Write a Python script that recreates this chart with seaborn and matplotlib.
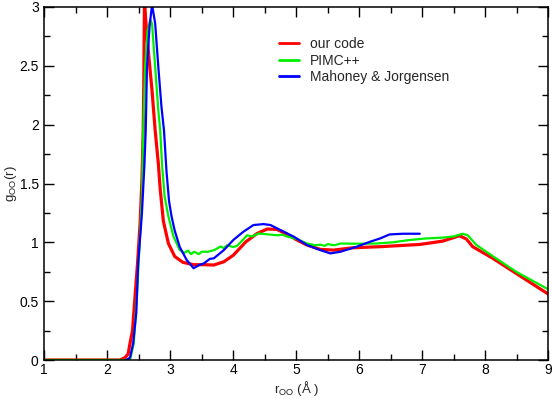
import matplotlib
matplotlib.use("Agg")
import matplotlib.pyplot as plt
import seaborn as sns
import pandas as pd
from matplotlib.ticker import MultipleLocator, FixedLocator, FixedFormatter

# ---- data ----
red_x = [1.0, 2.2, 2.28, 2.33, 2.36, 2.40, 2.44, 2.48, 2.52, 2.55, 2.57, 2.58, 2.59,
         2.61, 2.65, 2.71, 2.76, 2.81, 2.84, 2.89, 2.97, 3.07, 3.2, 3.37, 3.55, 3.69,
         3.85, 4.0, 4.2, 4.38, 4.54, 4.69, 4.85, 5.01, 5.17, 5.38, 5.59, 5.9, 6.33,
         6.96, 7.32, 7.59, 7.7, 7.8, 8.12, 8.49, 9.0]
red_y = [0, 0, 0.02, 0.05, 0.14, 0.25, 0.54, 0.82, 1.16, 1.53, 1.95, 2.4, 3.06,
         2.89, 2.63, 2.29, 1.95, 1.67, 1.45, 1.18, 0.99, 0.88, 0.83, 0.81, 0.81, 0.807,
         0.835, 0.89, 1.005, 1.076, 1.113, 1.11, 1.07, 1.02, 0.977, 0.94, 0.934, 0.954, 0.963,
         0.982, 1.01, 1.056, 1.028, 0.963, 0.864, 0.736, 0.56]

green_x = [1.0, 2.36, 2.42, 2.47, 2.51, 2.55, 2.57, 2.60, 2.64, 2.68, 2.71, 2.76, 2.81,
           2.84, 2.87, 2.91, 2.97, 3.05, 3.15, 3.22, 3.28, 3.33, 3.38, 3.45, 3.5, 3.6,
           3.7, 3.8, 3.85, 3.9, 4.0, 4.06, 4.15, 4.22, 4.3, 4.4, 4.5, 4.6, 4.7, 4.78,
           4.85, 5.0, 5.17, 5.3, 5.38, 5.45, 5.5, 5.6, 5.7, 6.0, 6.27, 6.53, 6.8, 7.06,
           7.32, 7.5, 7.64, 7.72, 7.86, 8.17, 8.49, 9.0]
green_y = [0, 0, 0.14, 0.54, 0.96, 1.39, 1.95, 2.49, 2.80, 2.89, 2.86, 2.49, 2.12,
           1.95, 1.65, 1.39, 1.22, 1.05, 0.935, 0.91, 0.93, 0.90, 0.92, 0.90, 0.92, 0.92,
           0.935, 0.965, 0.95, 0.975, 0.96, 0.97, 1.02, 1.06, 1.05, 1.075, 1.07, 1.065, 1.06, 1.065,
           1.05, 1.03, 0.99, 0.975, 0.98, 0.97, 0.985, 0.975, 0.99, 0.988, 0.99, 1.0, 1.02, 1.033,
           1.04, 1.05, 1.073, 1.06, 0.977, 0.864, 0.75, 0.6]

blue_x = [2.3, 2.36, 2.41, 2.46, 2.49, 2.55, 2.59, 2.61, 2.63, 2.67, 2.71, 2.76, 2.81,
          2.86, 2.90, 2.94, 2.98, 3.02, 3.07, 3.15, 3.26, 3.37, 3.47, 3.53, 3.63, 3.69,
          3.85, 4.0, 4.16, 4.32, 4.48, 4.59, 4.75, 4.96, 5.17, 5.38, 5.54, 5.7, 5.96,
          6.17, 6.33, 6.48, 6.69, 6.96]
blue_y = [0, 0.02, 0.14, 0.40, 0.82, 1.25, 1.67, 1.95, 2.49, 2.83, 3.02, 2.86, 2.49,
          2.15, 1.95, 1.60, 1.35, 1.22, 1.10, 0.96, 0.85, 0.78, 0.81, 0.82, 0.86, 0.864,
          0.934, 1.02, 1.09, 1.147, 1.155, 1.147, 1.104, 1.048, 0.977, 0.934, 0.906, 0.92, 0.963,
          1.005, 1.033, 1.067, 1.073, 1.073]

series_labels = ["our code", "PIMC++", "Mahoney & Jorgensen"]
series_colors = ["#ff0000", "#00ee00", "#0000ff"]

x_ticks = [1, 2, 3, 4, 5, 6, 7, 8, 9]
x_ticklabels = ["1", "2", "3", "4", "5", "6", "7", "8", "9"]
y_ticks = [0, 0.5, 1, 1.5, 2, 2.5, 3]
y_ticklabels = ["0", "0.5", "1", "1.5", "2", "2.5", "3"]

# ---- plot ----
sns.set_theme(style="ticks")
plt.rcParams["font.family"] = ["Liberation Sans", "DejaVu Sans"]
plt.rcParams["mathtext.fontset"] = "custom"
plt.rcParams["mathtext.rm"] = "Liberation Sans"

fig = plt.figure(figsize=(5.52, 3.99), dpi=100)
ax = fig.add_axes([44.3 / 552, 39 / 399, 504 / 552, 353 / 399])

data = [(red_x, red_y, 2.3), (green_x, green_y, 1.6), (blue_x, blue_y, 1.6)]
for (xs, ys, lw), lab, col in zip(data, series_labels, series_colors):
    df = pd.DataFrame({"r": xs, "g": ys})
    sns.lineplot(data=df, x="r", y="g", ax=ax, color=col, linewidth=lw,
                 label=lab, sort=False, estimator=None)

ax.set_xlim(1, 9)
ax.set_ylim(0, 3)
ax.xaxis.set_major_locator(FixedLocator(x_ticks))
ax.xaxis.set_major_formatter(FixedFormatter(x_ticklabels))
ax.yaxis.set_major_locator(FixedLocator(y_ticks))
ax.yaxis.set_major_formatter(FixedFormatter(y_ticklabels))
ax.xaxis.set_minor_locator(MultipleLocator(0.5))
ax.yaxis.set_minor_locator(MultipleLocator(0.25))
ax.tick_params(which="both", direction="in", top=True, right=True, color="black",
               width=1.0, labelsize=10, labelcolor="black")
ax.tick_params(which="major", length=7.5, pad=4)
ax.tick_params(axis="x", which="major", pad=2.5)
ax.tick_params(which="minor", length=4.5)
for s in ax.spines.values():
    s.set_linewidth(1.1)
    s.set_color("black")

ax.set_xlabel(r"r$_{\mathregular{OO}}$ (Å )", fontsize=9.5, va="center")
ax.set_ylabel(r"g$_{\mathregular{OO}}$(r)", fontsize=9.5, va="center")
ax.xaxis.set_label_coords(0.5, -0.081)
ax.yaxis.set_label_coords(-0.066, 0.5)

leg = ax.legend(loc="upper left", bbox_to_anchor=(0.455, 0.93), frameon=False,
                fontsize=10, handlelength=1.45, handletextpad=0.75, labelspacing=0.18,
                borderaxespad=0)
for h in leg.get_lines():
    h.set_linewidth(2.0)

fig.savefig("out.png", dpi=100)
